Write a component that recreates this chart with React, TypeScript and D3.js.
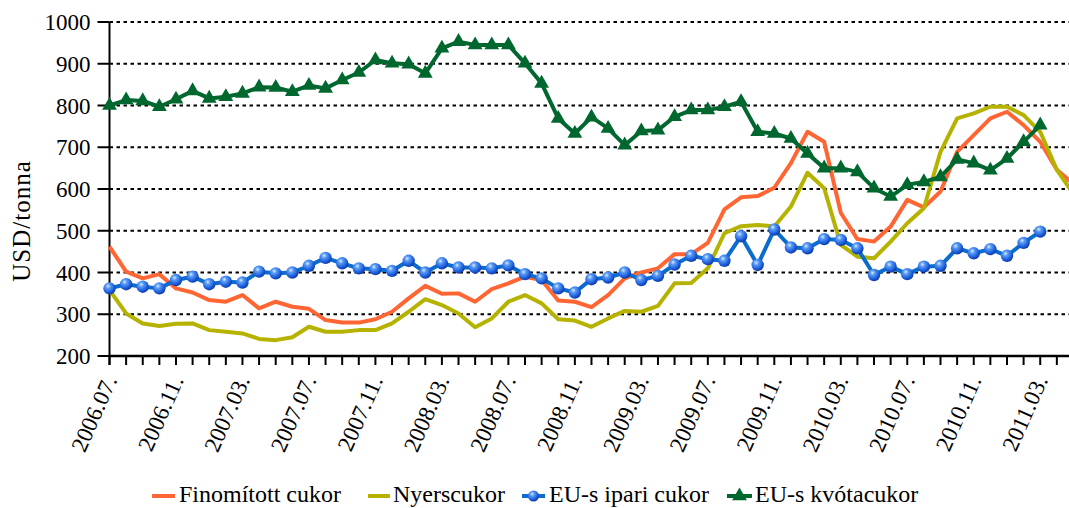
import React from "react";
import * as d3 from "d3";

const months: string[] = [];
{
  let y = 2006, m = 7;
  for (let i = 0; i < 59; i++) {
    months.push(`${y}.${String(m).padStart(2, "0")}.`);
    m++;
    if (m > 12) { m = 1; y++; }
  }
}

const finomitott = [462, 402, 386, 396, 362, 352, 334, 330, 346, 314, 330, 318, 313, 286, 280, 280,
  288, 306, 338, 368, 349, 350, 330, 360, 374, 390, 382, 333, 330, 317, 346, 386, 400, 410, 444, 444,
  471, 551, 580, 583, 603, 662, 737, 713, 543, 480, 474, 510, 574, 556, 594, 689, 729, 769, 785, 753,
  713, 646, 612];
const nyers = [358, 302, 278, 272, 277, 278, 262, 258, 254, 241, 238, 245, 270, 258, 258, 262,
  262, 278, 306, 336, 322, 302, 269, 290, 330, 346, 326, 288, 285, 270, 290, 308, 306, 320, 374, 375,
  410, 494, 511, 514, 510, 558, 639, 602, 466, 438, 434, 474, 518, 554, 689, 769, 781, 797, 797, 777,
  737, 646, 588];
const euIpari = [362, 372, 366, 362, 382, 390, 372, 378, 376, 402, 398, 400, 416, 435, 422, 410,
  408, 404, 428, 400, 422, 412, 412, 410, 417, 396, 386, 362, 352, 384, 388, 400, 382, 392, 419, 440,
  432, 428, 487, 418, 503, 460, 458, 480, 478, 458, 394, 414, 396, 414, 416, 458, 446, 456, 440, 471,
  498];
const euKvota = [800, 813, 811, 797, 815, 835, 817, 821, 829, 844, 843, 833, 848, 841, 861, 879,
  909, 901, 899, 877, 937, 953, 945, 945, 945, 901, 853, 769, 733, 772, 745, 705, 739, 741, 773, 789,
  789, 797, 809, 737, 733, 721, 685, 650, 650, 641, 602, 582, 610, 617, 629, 671, 662, 645, 673, 713,
  753];

const yTicks = [200, 300, 400, 500, 600, 700, 800, 900, 1000];
const legendLabels = ["Finomított cukor", "Nyerscukor", "EU-s ipari cukor", "EU-s kvótacukor"];

const TS: React.CSSProperties = { fontFamily: '"Liberation Serif", serif' };
const ORANGE = "#ff6633";
const OLIVE = "#b5b300";
const BLUE = "#0a6ccc";
const GREEN = "#00682f";

export default function App() {
  const W = 1069, H = 508;
  const x = d3.scaleLinear().domain([0, 57]).range([109.5, 109.5 + 57 * 16.62]);
  const y = d3.scaleLinear().domain([200, 1000]).range([356, 22]);
  const line = d3.line<number>().x((_, i) => x(i)).y((d) => y(d)).curve(d3.curveLinear);
  const tri = d3.symbol().type(d3.symbolTriangle).size(95)();
  const x0 = x(0);
  const LY = 496;

  const sphere = (cx: number, cy: number, key: string | number) => (
    <circle key={key} cx={cx} cy={cy} r={6.2} fill="url(#ball)" />
  );

  return (
    <svg width={W} height={H} style={{ position: "absolute", left: 0, top: 0, background: "#fff" }}>
      <defs>
        <radialGradient id="ball" cx="0.38" cy="0.32" r="0.75">
          <stop offset="0" stopColor="#dcecff" />
          <stop offset="0.25" stopColor="#5a9cf5" />
          <stop offset="0.7" stopColor="#1858d8" />
          <stop offset="1" stopColor="#0a2f8a" />
        </radialGradient>
      </defs>
      {/* grid */}
      {yTicks.filter((t) => t > 200).map((t) => (
        <line key={t} x1={x0} x2={W} y1={y(t)} y2={y(t)} stroke="#000" strokeWidth={2}
          strokeDasharray="3.5,3.5" />
      ))}
      {/* y axis */}
      <line x1={x0} x2={x0} y1={y(1000)} y2={y(200) + 9} stroke="#000" strokeWidth={2} />
      {yTicks.map((t) => (
        <g key={t}>
          <line x1={x0 - 12} x2={x0} y1={y(t)} y2={y(t)} stroke="#000" strokeWidth={2} />
          <text x={x0 - 19} y={y(t)} dy="0.35em" textAnchor="end" fontSize={23} fill="#000" style={TS}>{t}</text>
        </g>
      ))}
      <text transform={`translate(30,${221}) rotate(-90)`} textAnchor="middle" fontSize={25}
        letterSpacing={1} fill="#000" style={TS}>USD/tonna</text>
      {/* x axis */}
      <line x1={x0} x2={W} y1={y(200)} y2={y(200)} stroke="#000" strokeWidth={2.5} />
      {months.map((m, i) => (
        <line key={m} x1={x(i)} x2={x(i)} y1={y(200)} y2={y(200) + 9} stroke="#000" strokeWidth={2} />
      ))}
      {months.map((m, i) => i % 4 === 0 ? (
        <text key={"l" + m} transform={`translate(${x(i) + 8},${380}) rotate(-66)`} textAnchor="end"
          fontSize={23} fill="#000" style={TS}>{m}</text>
      ) : null)}
      {/* series */}
      <path d={line(finomitott) || ""} fill="none" stroke={ORANGE} strokeWidth={4} strokeLinejoin="round" />
      <path d={line(nyers) || ""} fill="none" stroke={OLIVE} strokeWidth={4} strokeLinejoin="round" />
      <path d={line(euIpari) || ""} fill="none" stroke={BLUE} strokeWidth={4} strokeLinejoin="round" />
      {euIpari.map((v, i) => sphere(x(i), y(v), i))}
      <path d={line(euKvota) || ""} fill="none" stroke={GREEN} strokeWidth={4} strokeLinejoin="round" />
      {euKvota.map((v, i) => (
        <path key={i} d={tri || ""} transform={`translate(${x(i)},${y(v)})`} fill={GREEN} />
      ))}
      {/* legend */}
      <g fill="#000">
        <line x1={152} x2={175} y1={LY} y2={LY} stroke={ORANGE} strokeWidth={4} />
        <text x={179} y={LY + 6} fontSize={24} style={TS}>{legendLabels[0]}</text>
        <line x1={368} x2={390} y1={LY} y2={LY} stroke={OLIVE} strokeWidth={4} />
        <text x={393} y={LY + 6} fontSize={24} style={TS}>{legendLabels[1]}</text>
        <line x1={522} x2={545} y1={LY} y2={LY} stroke={BLUE} strokeWidth={4} />
        <circle cx={533.5} cy={LY} r={5.5} fill="url(#ball)" />
        <text x={549} y={LY + 6} fontSize={24} style={TS}>{legendLabels[2]}</text>
        <line x1={727} x2={752} y1={LY} y2={LY} stroke={GREEN} strokeWidth={4} />
        <path d={tri || ""} transform={`translate(739.5,${LY})`} fill={GREEN} />
        <text x={755} y={LY + 6} fontSize={24} style={TS}>{legendLabels[3]}</text>
      </g>
    </svg>
  );
}
